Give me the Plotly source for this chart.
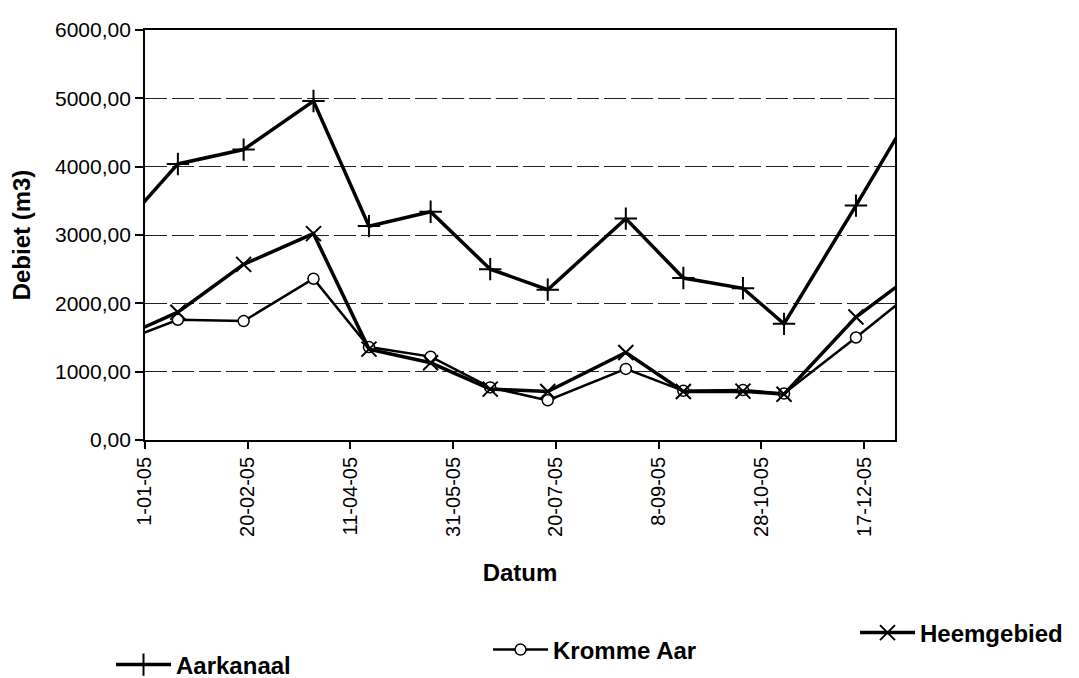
import plotly.graph_objects as go

# ---- data ----
dates = ["2004-12-16", "2005-01-17", "2005-02-18", "2005-03-24", "2005-04-20",
         "2005-05-20", "2005-06-18", "2005-07-16", "2005-08-23", "2005-09-20",
         "2005-10-19", "2005-11-08", "2005-12-13", "2006-01-15"]
aarkanaal = [2960, 4040, 4250, 4960, 3130, 3340, 2500, 2200, 3240, 2370, 2220, 1700, 3430, 5100]
kromme_aar = [1390, 1760, 1740, 2360, 1360, 1220, 770, 580, 1040, 720, 730, 680, 1500, 2300]
heemgebied = [1440, 1870, 2570, 3020, 1330, 1130, 745, 710, 1280, 710, 715, 670, 1800, 2540]

tick_dates = ["2005-01-01", "2005-02-20", "2005-04-11", "2005-05-31",
              "2005-07-20", "2005-09-08", "2005-10-28", "2005-12-17"]
tick_labels = ["1-01-05", "20-02-05", "11-04-05", "31-05-05",
               "20-07-05", "8-09-05", "28-10-05", "17-12-05"]
y_ticks = [0, 1000, 2000, 3000, 4000, 5000, 6000]

FONT = "Liberation Sans, Arial, sans-serif"
W, H = 1071, 670
ML, MT, PW, PH = 137, 22, 750, 410

fig = go.Figure()
fig.add_trace(go.Scatter(
    x=dates, y=aarkanaal, name="Aarkanaal", mode="lines+markers", legend="legend",
    line=dict(color="black", width=3.5),
    marker=dict(symbol="cross-thin-open", size=16, color="black",
                line=dict(color="black", width=2))))
fig.add_trace(go.Scatter(
    x=dates, y=kromme_aar, name="Kromme Aar", mode="lines+markers", legend="legend2",
    line=dict(color="black", width=2.5),
    marker=dict(symbol="circle", size=11, color="white",
                line=dict(color="black", width=1.5))))
fig.add_trace(go.Scatter(
    x=dates, y=heemgebied, name="Heemgebied", mode="lines+markers", legend="legend3",
    line=dict(color="black", width=3.5),
    marker=dict(symbol="x-thin-open", size=15, color="black",
                line=dict(color="black", width=2))))

def leg(px_x, px_y):
    return dict(xref="paper", yref="paper",
                x=(px_x - ML) / PW, y=(MT + PH - px_y) / PH,
                xanchor="left", yanchor="middle", itemwidth=55,
                font=dict(family=FONT, size=24, color="black", weight="bold"),
                bgcolor="rgba(0,0,0,0)", borderwidth=0)

fig.update_layout(
    width=W, height=H,
    paper_bgcolor="white", plot_bgcolor="white",
    separators=",.",
    font=dict(family=FONT, color="black", size=20),
    margin=dict(l=ML, r=W - ML - PW, t=MT, b=H - MT - PH, autoexpand=False),
    showlegend=True,
    legend=leg(103, 657),
    legend2=leg(480, 642),
    legend3=leg(847, 625),
)
fig.update_xaxes(
    type="date", range=["2005-01-01", "2006-01-01"],
    tickvals=tick_dates, ticktext=tick_labels, tickangle=-90,
    ticks="outside", ticklen=7, tickcolor="black", tickwidth=1.5,
    showgrid=False, zeroline=False,
    showline=True, linecolor="black", linewidth=1.8, mirror=True,
    tickfont=dict(family=FONT, size=20),
    title=dict(text="<b>Datum</b>", font=dict(family=FONT, size=24), standoff=28),
)
fig.update_yaxes(
    range=[0, 6000], tickvals=y_ticks, tickformat=".2f",
    ticks="outside", ticklen=8, tickcolor="black", tickwidth=1.5,
    showgrid=True, gridcolor="#222222", gridwidth=1, griddash="22px,5px",
    zeroline=False,
    showline=True, linecolor="black", linewidth=1.8, mirror=True,
    tickfont=dict(family=FONT, size=21),
    title=dict(text="<b>Debiet (m3)</b>", font=dict(family=FONT, size=24), standoff=18),
)

fig.write_html("out.html")
